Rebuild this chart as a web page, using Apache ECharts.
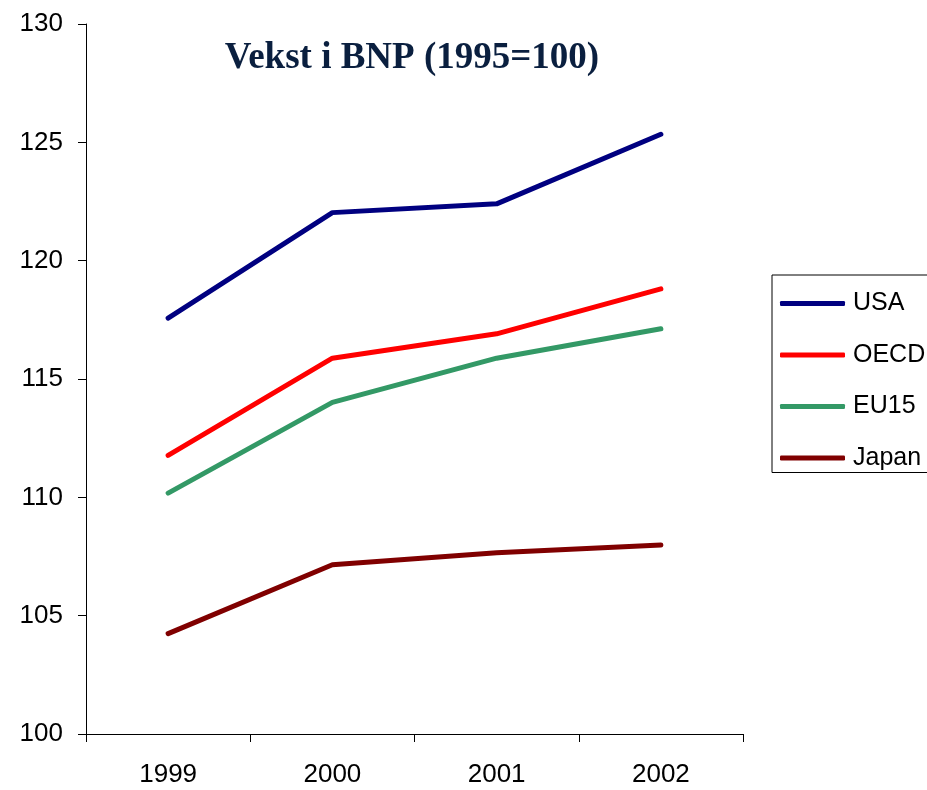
<!DOCTYPE html>
<html>
<head>
<meta charset="utf-8">
<script src="https://cdn.jsdelivr.net/npm/echarts@6/dist/echarts.min.js"></script>
<style>html,body{margin:0;padding:0;background:#fff}#c{width:927px;height:790px}</style>
</head>
<body>
<div id="c"></div>
<script>
const categories = ['1999', '2000', '2001', '2002'];
const usa = [117.57, 122.03, 122.4, 125.34];
const oecd = [111.77, 115.88, 116.91, 118.81];
const eu15 = [110.18, 114.01, 115.88, 117.12];
const japan = [104.24, 107.15, 107.66, 107.99];
const seriesNames = ['USA', 'OECD', 'EU15', 'Japan'];
const seriesColors = ['#000080', '#FF0000', '#339966', '#800000'];
const titleText = 'Vekst i BNP (1995=100)';

const dataSets = [usa, oecd, eu15, japan];
const chart = echarts.init(document.getElementById('c'), null, {renderer: 'canvas'});
chart.setOption({
  animation: false,
  backgroundColor: '#ffffff',
  title: {
    text: titleText,
    left: 407, top: 35, textAlign: 'center',
    textStyle: {fontFamily: 'Liberation Serif', fontWeight: 'bold', fontSize: 37, color: '#0a1f3f'}
  },
  legend: {
    orient: 'vertical',
    left: 772, top: 275,
    padding: [16, 60, 2, 8],
    itemGap: 26.5,
    itemWidth: 65, itemHeight: 5,
    icon: 'roundRect',
    borderColor: '#000', borderWidth: 1,
    textStyle: {fontFamily: 'Liberation Sans', fontSize: 25, color: '#000', padding: [0, 0, 0, 3]},
    data: seriesNames
  },
  grid: {left: 86, right: 184, top: 24, bottom: 56, containLabel: false},
  xAxis: {
    type: 'category',
    data: categories,
    boundaryGap: true,
    axisLine: {lineStyle: {color: '#000', width: 1}},
    axisTick: {show: true, inside: false, length: 8, lineStyle: {color: '#000'}},
    axisLabel: {fontFamily: 'Liberation Sans', fontSize: 26, color: '#000', margin: 28},
    splitLine: {show: false}
  },
  yAxis: {
    type: 'value',
    min: 100, max: 130, interval: 5,
    axisLine: {show: true, lineStyle: {color: '#000', width: 1}},
    axisTick: {show: true, inside: false, length: 8, lineStyle: {color: '#000'}},
    axisLabel: {fontFamily: 'Liberation Sans', fontSize: 26, color: '#000', margin: 23},
    splitLine: {show: false}
  },
  series: seriesNames.map((n, i) => ({
    name: n,
    type: 'line',
    data: dataSets[i],
    showSymbol: false,
    symbol: 'none',
    color: seriesColors[i],
    lineStyle: {width: 5, color: seriesColors[i], cap: 'round', join: 'round'}
  }))
});
</script>
</body>
</html>
